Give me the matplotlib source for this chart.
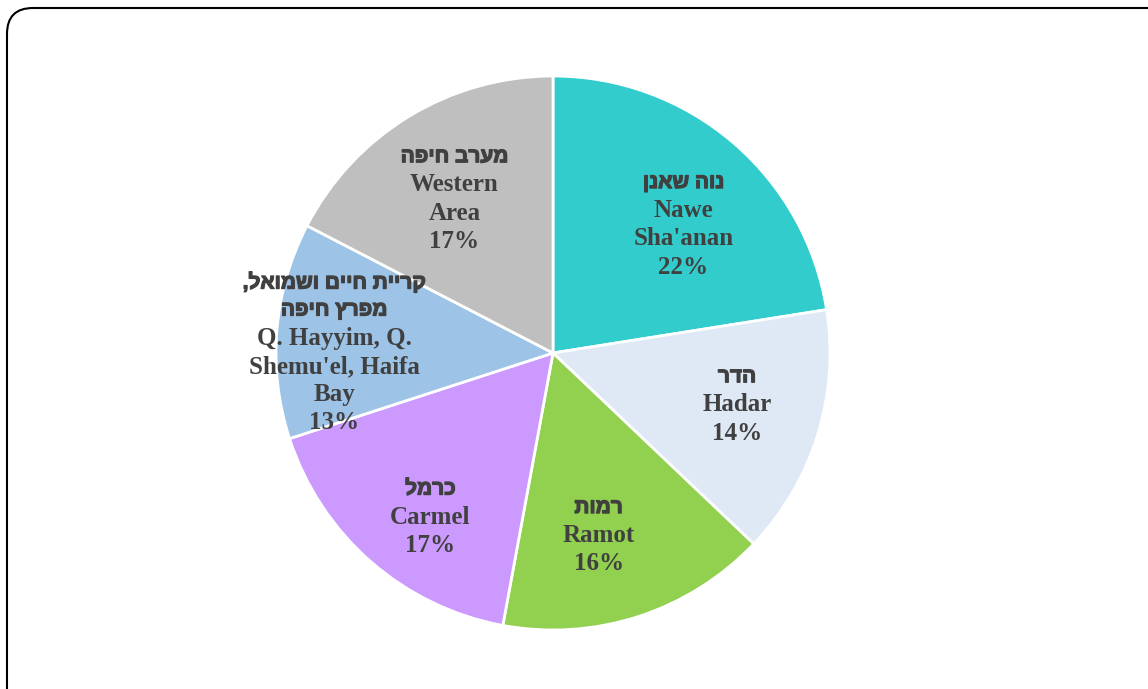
import numpy as np
import matplotlib.pyplot as plt
import matplotlib.patheffects as pe
from matplotlib.path import Path
from matplotlib.patches import PathPatch

# Slice data, clockwise from 12 o'clock
heb_names = ["נוה שאנן", "הדר", "רמות", "כרמל", "קריית חיים ושמואל,\nמפרץ חיפה", "מערב חיפה"]
eng_names = ["Nawe\nSha'anan", "Hadar", "Ramot", "Carmel", "Q. Hayyim, Q.\nShemu'el, Haifa\nBay", "Western\nArea"]
shares = [22.5, 14.6, 15.8, 17.1, 12.6, 17.4]
pct_labels = ["22%", "14%", "16%", "17%", "13%", "17%"]
colors = ["#33CCCC", "#DEE9F5", "#92D050", "#CC99FF", "#9DC3E6", "#BFBFBF"]

# label placement (fraction of radius, angle nudge in degrees)
label_r = [0.66, 0.69, 0.68, 0.74, 0.79, 0.66]
label_dang = [-5, 1.5, -4, 4.5, 4.5, 1.3]


def visual(s):
    # matplotlib has no bidi support: reverse each Hebrew line for display
    return [line[::-1] for line in s.split("\n")]


W, H = 1148, 689
fig = plt.figure(figsize=(W / 100, H / 100), dpi=100)

# frame: only top and left edges (with rounded corner) fall inside the image
bg = fig.add_axes([0, 0, 1, 1])
bg.set_xlim(0, W)
bg.set_ylim(0, H)
bg.axis("off")
verts = [(7, -5), (7, H - 34), (7, H - 8), (33, H - 8), (W + 5, H - 8)]
codes = [Path.MOVETO, Path.LINETO, Path.CURVE3, Path.CURVE3, Path.LINETO]
bg.add_patch(PathPatch(Path(verts, codes), fill=False, edgecolor="black", linewidth=1.5, clip_on=False))

cx, cy, r = 553, 353, 277
ax = fig.add_axes([(cx - r) / W, (H - cy - r) / H, 2 * r / W, 2 * r / H])
wedges, _ = ax.pie(shares, colors=colors, startangle=90, counterclock=False,
                   wedgeprops=dict(edgecolor="white", linewidth=2))
ax.set_xlim(-1, 1)
ax.set_ylim(-1, 1)

pitch = 20.3  # line pitch in points
style = dict(color="#404040", fontweight="bold", ha="center", va="center",
             textcoords="offset points")
heb_font = dict(family=["Liberation Sans", "DejaVu Sans"], fontsize=15,
                path_effects=[pe.withStroke(linewidth=0.9, foreground="#404040")])
eng_font = dict(family=["Liberation Serif", "DejaVu Serif"], fontsize=18)

for w, rr, da, heb, eng, pct in zip(wedges, label_r, label_dang, heb_names, eng_names, pct_labels):
    ang = np.deg2rad((w.theta1 + w.theta2) / 2 + da)
    x, y = rr * np.cos(ang), rr * np.sin(ang)
    lines = [(s, heb_font) for s in visual(heb)] + [(s, eng_font) for s in eng.split("\n") + [pct]]
    n = len(lines)
    for i, (s, font) in enumerate(lines):
        ax.annotate(s, (x, y), xytext=(0, ((n - 1) / 2 - i) * pitch), **style, **font)

fig.savefig("out.png", dpi=100)
